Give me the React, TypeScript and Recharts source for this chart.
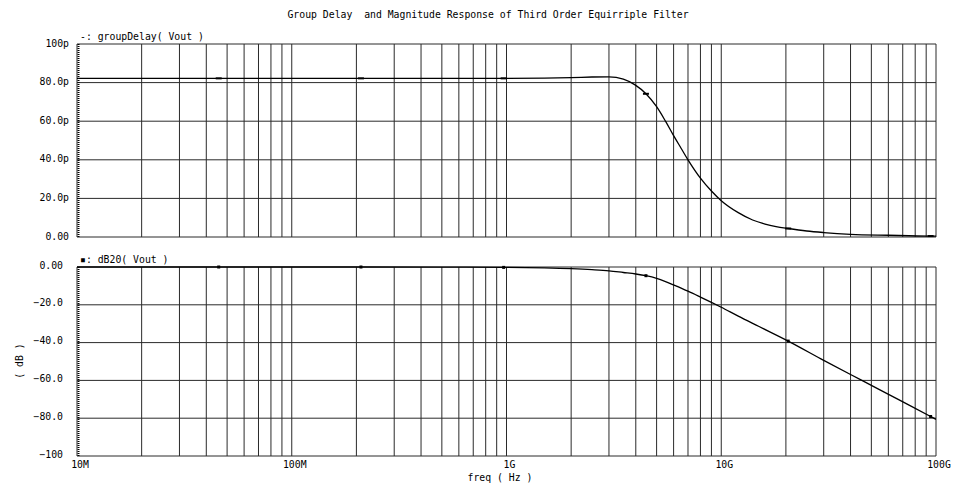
import { CartesianGrid, Line, LineChart, ReferenceLine, XAxis, YAxis } from "recharts";

// group delay in ps vs frequency in Hz
const delayFreq = [
	1e7, 2e7, 4.57e7, 1e8, 2.1e8, 5e8, 9.7e8, 1.5e9, 2e9, 2.5e9, 3e9, 3.5e9, 3.97e9, 4.46e9, 5e9, 5.5e9,
	6e9, 6.5e9, 7e9, 8e9, 9e9, 1e10, 1.2e10, 1.4e10, 1.6e10, 1.8e10, 2.05e10, 2.5e10, 3e10, 4e10, 6e10,
	9.44e10, 1e11,
];
const delayPs = [
	82.2, 82.2, 82.2, 82.2, 82.2, 82.2, 82.2, 82.35, 82.6, 82.9, 83.0, 81.8, 78.8, 74.2, 67.5, 60.0,
	52.5, 46.0, 40.0, 30.5, 23.8, 18.8, 12.6, 8.8, 6.7, 5.4, 4.4, 3.1, 2.3, 1.4, 0.9,
	0.5, 0.5,
];

// magnitude in dB vs frequency in Hz
const magFreq = [
	1e7, 4.57e7, 2.1e8, 5e8, 9.7e8, 1.5e9, 2e9, 2.5e9, 3e9, 3.5e9, 4e9, 4.46e9, 5e9, 5.5e9, 6e9, 7e9,
	8e9, 9e9, 1e10, 1.2e10, 1.5e10, 2.05e10, 3e10, 4e10, 5e10, 6.7e10, 9.44e10, 1e11,
];
const magDb = [
	0, 0, 0, -0.05, -0.2, -0.5, -0.9, -1.4, -2.0, -2.9, -3.7, -4.6, -6.0, -7.7, -9.5, -12.8,
	-15.9, -18.7, -21.3, -26.0, -31.5, -39.2, -49.4, -56.9, -62.6, -70.2, -79.1, -80.6,
];

// frequencies carrying a trace marker
const markFreqs = [4.57e7, 2.1e8, 9.7e8, 4.46e9, 2.05e10, 9.44e10];

const decadeLabels = ["10M", "100M", "1G", "10G", "100G"];
const delayTicks = [0, 20, 40, 60, 80, 100];
const delayTickLabels = ["0.00", "20.0p", "40.0p", "60.0p", "80.0p", "100p"];
const magTicks = [-100, -80, -60, -40, -20, 0];
const magTickLabels = ["\u2212100", "\u221280.0", "\u221260.0", "\u221240.0", "\u221220.0", "0.00"];

const delayData = delayFreq.map((freq, i) => ({ freq, v: delayPs[i] }));
const magData = magFreq.map((freq, i) => ({ freq, v: magDb[i] }));

// log grid: 1..9 in every decade plus the last decade
const freqGrid: number[] = [];
for (let d = 7; d < 11; d++) {
	for (let m = 1; m <= 9; m++) freqGrid.push(m * Math.pow(10, d));
}
freqGrid.push(1e11);

const FONT = "'DejaVu Sans Mono', monospace";
const GRID = "#2a2a2a";

const txt = { fontFamily: FONT, fontSize: 9.8, fill: "#000" };

const decadeLabel = (v: number) => {
	const e = Math.round(Math.log10(v));
	if (Math.abs(v - Math.pow(10, e)) > 1) return "";
	return decadeLabels[e - 7] ?? "";
};

const FreqTick = ({ x, y, payload }: any) => {
	const label = decadeLabel(payload.value);
	if (!label) return <g />;
	return (
		<text x={x + 3} y={y} textAnchor="middle" dominantBaseline="central" style={txt}>
			{label}
		</text>
	);
};

const NoTick = () => <g />;

const DelayTick = ({ x, y, payload }: any) => (
	<text x={x} y={y - 1} textAnchor="end" dominantBaseline="central" style={txt}>
		{delayTickLabels[delayTicks.indexOf(payload.value)]}
	</text>
);

const MagTick = ({ x, y, payload }: any) => (
	<text x={x - 6} y={y - 2} textAnchor="end" dominantBaseline="central" style={txt}>
		{magTickLabels[magTicks.indexOf(payload.value)]}
	</text>
);

const isMarked = (f: number) => markFreqs.some((m) => Math.abs(m - f) < 1);

const dashDot = (props: any) => {
	const { cx, cy, payload, index } = props;
	if (!isMarked(payload.freq)) return <g key={`d-${index}`} />;
	return <rect key={`d-${index}`} x={cx - 3} y={cy - 1} width={6} height={2} fill="#000" />;
};

const squareDot = (props: any) => {
	const { cx, cy, payload, index } = props;
	if (!isMarked(payload.freq)) return <g key={`s-${index}`} />;
	return <rect key={`s-${index}`} x={cx - 1.5} y={cy - 1.5} width={3} height={3} fill="#000" />;
};

// dotted minor ticks running down the inside of the left frame
const minorTicks = (p: any) => (
	<line
		x1={p.x1 + 1.5}
		x2={p.x2 + 1.5}
		y1={p.y1}
		y2={p.y2}
		stroke="#000"
		strokeWidth={2}
		strokeDasharray="1 1"
	/>
);

const App = () => {
	return (
		<div style={{ position: "absolute", left: 0, top: 0, width: 960, height: 487, background: "#fff", overflow: "hidden" }}>
			<svg width={960} height={487} style={{ position: "absolute", left: 0, top: 0 }}>
				<text x={488} y={14} textAnchor="middle" dominantBaseline="central" style={{ ...txt, whiteSpace: "pre" }}>
					{"Group Delay  and Magnitude Response of Third Order Equirriple Filter"}
				</text>
				<text x={80} y={36} dominantBaseline="central" style={{ ...txt, whiteSpace: "pre" }}>
					{"-: groupDelay( Vout )"}
				</text>
				<text x={80} y={259} dominantBaseline="central" style={{ ...txt, whiteSpace: "pre" }}>
					{"\u25aa: dB20( Vout )"}
				</text>
				<text x={500} y={477} textAnchor="middle" dominantBaseline="central" style={{ ...txt, whiteSpace: "pre" }}>
					{"freq ( Hz )"}
				</text>
				<text
					x={19}
					y={361}
					textAnchor="middle"
					dominantBaseline="central"
					transform="rotate(-90 19 361)"
					style={{ ...txt, whiteSpace: "pre" }}>
					{"( dB )"}
				</text>
			</svg>

			<div style={{ position: "absolute", left: 0, top: 0 }}>
				<LineChart width={960} height={245} data={delayData} margin={{ top: 44, right: 24, bottom: 0, left: 0 }}>
					<CartesianGrid stroke={GRID} strokeWidth={1} />
					<XAxis
						dataKey="freq"
						type="number"
						scale="log"
						domain={[1e7, 1e11]}
						ticks={freqGrid}
						allowDataOverflow
						height={8}
						interval={0}
						axisLine={false}
						tickLine={false}
						tick={<NoTick />}
					/>
					<YAxis
						type="number"
						domain={[0, 100]}
						ticks={delayTicks}
						interval={0}
						width={77}
						axisLine={false}
						tickLine={false}
						tick={<DelayTick />}
					/>
					<ReferenceLine x={1e7} shape={minorTicks} />
					<Line
						type="monotone"
						dataKey="v"
						stroke="#000"
						strokeWidth={1.3}
						dot={dashDot}
						activeDot={false}
						isAnimationActive={false}
					/>
				</LineChart>
			</div>

			<div style={{ position: "absolute", left: 0, top: 245 }}>
				<LineChart width={960} height={242} data={magData} margin={{ top: 22, right: 24, bottom: 0, left: 0 }}>
					<CartesianGrid stroke={GRID} strokeWidth={1} />
					<XAxis
						dataKey="freq"
						type="number"
						scale="log"
						domain={[1e7, 1e11]}
						ticks={freqGrid}
						allowDataOverflow
						height={31}
						interval={0}
						axisLine={false}
						tickLine={false}
						tick={<FreqTick />}
					/>
					<YAxis
						type="number"
						domain={[-100, 0]}
						ticks={magTicks}
						interval={0}
						width={77}
						axisLine={false}
						tickLine={false}
						tick={<MagTick />}
					/>
					<ReferenceLine x={1e7} shape={minorTicks} />
					<Line
						type="monotone"
						dataKey="v"
						stroke="#000"
						strokeWidth={1.3}
						dot={squareDot}
						activeDot={false}
						isAnimationActive={false}
					/>
				</LineChart>
			</div>
		</div>
	);
};

export default App;
